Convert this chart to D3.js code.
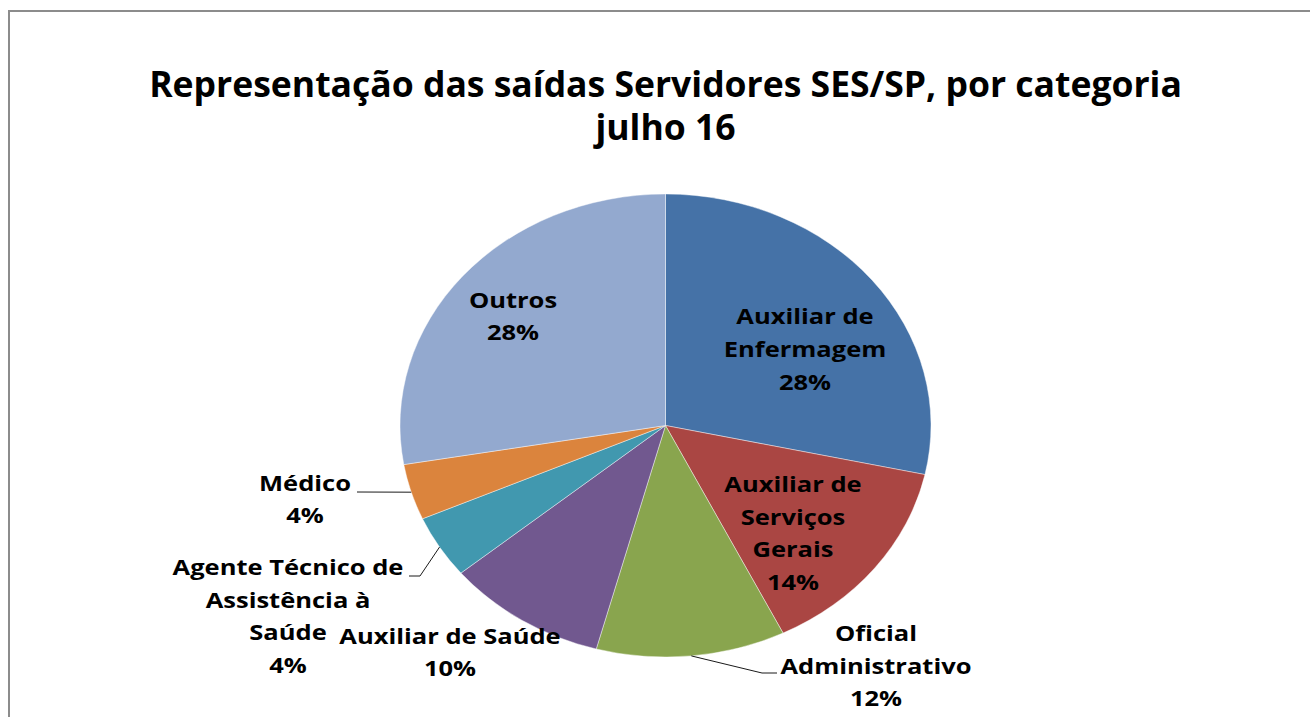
<!DOCTYPE html>
<html>
<head>
<meta charset="utf-8">
<script src="https://cdn.jsdelivr.net/npm/d3@7"></script>
<style>
  body { margin: 0; background: #fff; }
  svg text { font-family: "Open Sans", "DejaVu Sans", sans-serif; font-weight: bold; fill: #000; }
</style>
</head>
<body>
<script>
// data (shares of the whole, %)
var categories = ["Auxiliar de Enfermagem", "Auxiliar de Serviços Gerais", "Oficial Administrativo",
  "Auxiliar de Saúde", "Agente Técnico de Assistência à Saúde", "Médico", "Outros"];
var values = [28.4, 14.3, 11.5, 9.8, 4.4, 3.9, 27.7];
var labelLines = [
  ["Auxiliar de", "Enfermagem"],
  ["Auxiliar de", "Serviços", "Gerais"],
  ["Oficial", "Administrativo"],
  ["Auxiliar de Saúde"],
  ["Agente Técnico de", "Assistência à", "Saúde"],
  ["Médico"],
  ["Outros"]
];
var colors = ["#4572A7", "#AA4643", "#89A54E", "#71588F", "#4198AF", "#DB843D", "#93A9CF"];
var titleLines = ["Representação das saídas Servidores SES/SP, por categoria", "julho 16"];

// label block centres and leader elbows (layout only)
var labelLayout = [
  {x: 805, y: 349},
  {x: 793, y: 533},
  {x: 876, y: 666, elbow: [762, 673], end: [777, 673]},
  {x: 450, y: 652},
  {x: 288, y: 616, elbow: [420, 576], end: [409, 576]},
  {x: 305, y: 499, elbow: null, end: [357, 492]},
  {x: 513, y: 316}
];

var width = 1310, height = 717;
var cx = 665.5, cy = 425.5, rx = 265.5, ry = 231.5;
// the original text is a bit wider than Open Sans, stretch it sideways
var labelStretch = 1.16, titleStretch = 1.015;

var svg = d3.select("body").append("svg")
  .attr("width", width)
  .attr("height", height);

// chart frame
svg.append("rect")
  .attr("x", 9).attr("y", 11)
  .attr("width", 1400).attr("height", 800)
  .attr("fill", "none")
  .attr("stroke", "#8c8c8c")
  .attr("stroke-width", 2);

// title
svg.append("g")
  .attr("transform", "translate(" + cx + ",0) scale(" + titleStretch + ",1)")
  .append("text")
  .attr("text-anchor", "middle")
  .style("font-size", "35px")
  .selectAll("tspan")
  .data(titleLines)
  .enter().append("tspan")
  .attr("x", 0)
  .attr("y", function(d, i) { return 97 + i * 43; })
  .text(function(d) { return d; });

var pie = d3.pie().sort(null).value(function(d) { return d; });
var arcs = pie(values);

var arc = d3.arc().innerRadius(0).outerRadius(ry);

var g = svg.append("g")
  .attr("transform", "translate(" + cx + "," + cy + ") scale(" + (rx / ry) + ",1)");

g.selectAll("path")
  .data(arcs)
  .enter().append("path")
  .attr("d", arc)
  .attr("fill", function(d, i) { return colors[i]; })
  .attr("stroke", "#fff")
  .attr("stroke-width", 0.4);

// leader lines
arcs.forEach(function(d, i) {
  var lay = labelLayout[i];
  if (!lay.end) return;
  var mid = (d.startAngle + d.endAngle) / 2;
  var p0 = [cx + Math.sin(mid) * rx, cy - Math.cos(mid) * ry];
  var pts = [p0];
  if (lay.elbow) pts.push(lay.elbow);
  pts.push(lay.end);
  svg.append("path")
    .attr("d", d3.line()(pts))
    .attr("fill", "none")
    .attr("stroke", "#1a1a1a")
    .attr("stroke-width", 1);
});

// labels
var lineH = 32.5;
arcs.forEach(function(d, i) {
  var lines = labelLines[i].concat([Math.round(values[i]) + "%"]);
  var lay = labelLayout[i];
  var y0 = lay.y - (lines.length - 1) * lineH / 2;
  var t = svg.append("g")
    .attr("transform", "translate(" + lay.x + ",0) scale(" + labelStretch + ",1)")
    .append("text")
    .attr("text-anchor", "middle")
    .style("font-size", "22px");
  t.selectAll("tspan")
    .data(lines)
    .enter().append("tspan")
    .attr("x", 0)
    .attr("y", function(l, j) { return y0 + j * lineH + 8; })
    .text(function(l) { return l; });
});
</script>
</body>
</html>
